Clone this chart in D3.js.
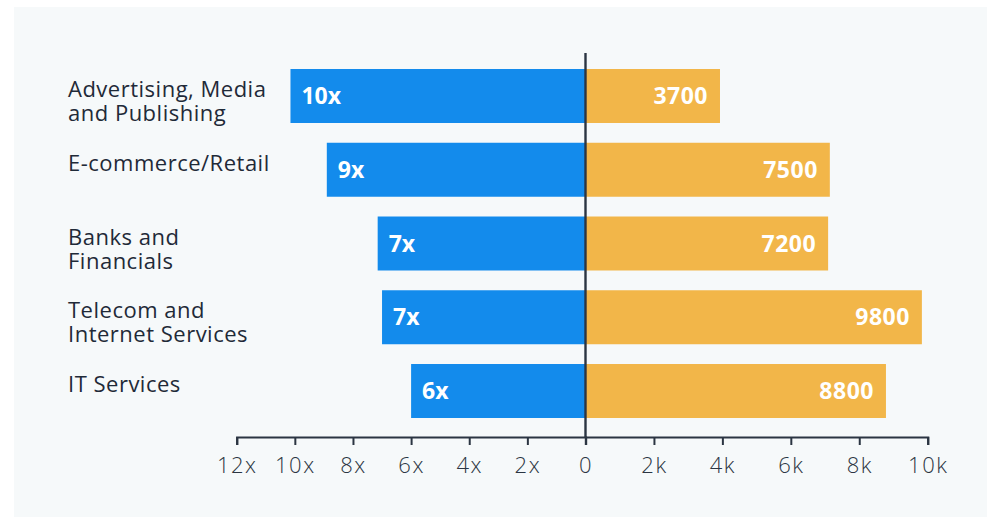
<!DOCTYPE html>
<html>
<head>
<meta charset="utf-8">
<script src="https://cdn.jsdelivr.net/npm/d3@7"></script>
<style>
  html, body { margin: 0; padding: 0; background: #ffffff; }
  svg { display: block; font-family: "Open Sans", sans-serif; }
</style>
</head>
<body>
<svg id="chart" width="991" height="517"></svg>
<script>
// Data

var categories = [
  ["Advertising, Media", "and Publishing"],
  ["E-commerce/Retail"],
  ["Banks and", "Financials"],
  ["Telecom and", "Internet Services"],
  ["IT Services"]
];
var multiples = [10.15, 8.9, 7.15, 7.0, 6.0];
var multipleLabels = ["10x", "9x", "7x", "7x", "6x"];
var counts = [3930, 7140, 7090, 9830, 8780];
var countLabels = ["3700", "7500", "7200", "9800", "8800"];

var leftTicks = [0, 2, 4, 6, 8, 10, 12];
var rightTicks = [2000, 4000, 6000, 8000, 10000];

var blue = "#138bec";
var orange = "#f2b649";
var ink = "#1f2a38";

var svg = d3.select("#chart");

// panel
svg.append("rect")
  .attr("x", 14).attr("y", 7)
  .attr("width", 973).attr("height", 520)
  .attr("fill", "#f6f9fa");

var x0 = 585.5;

var xLeft = d3.scaleLinear()
  .domain([0, 12])
  .range([x0, 236.7]);

var xRight = d3.scaleLinear()
  .domain([0, 10000])
  .range([x0, 927.7]);

var keys = categories.map(function(d) { return d.join(" "); });

var y = d3.scaleBand()
  .domain(keys)
  .range([69, 418])
  .paddingInner(0.268)
  .paddingOuter(0);

// blue bars
svg.selectAll(".lbar")
  .data(multiples)
  .enter()
  .append("rect")
  .attr("class", "lbar")
  .attr("x", function(d) { return xLeft(d); })
  .attr("y", function(d, i) { return y(keys[i]); })
  .attr("width", function(d) { return x0 - xLeft(d); })
  .attr("height", y.bandwidth())
  .attr("fill", blue);

// orange bars
svg.selectAll(".rbar")
  .data(counts)
  .enter()
  .append("rect")
  .attr("class", "rbar")
  .attr("x", x0)
  .attr("y", function(d, i) { return y(keys[i]); })
  .attr("width", function(d) { return xRight(d) - x0; })
  .attr("height", y.bandwidth())
  .attr("fill", orange);

// bar labels
svg.selectAll(".llabel")
  .data(multiples)
  .enter()
  .append("text")
  .attr("x", function(d) { return xLeft(d) + 11; })
  .attr("y", function(d, i) { return y(keys[i]) + y.bandwidth() / 2 + 8; })
  .attr("fill", "#ffffff")
  .attr("font-size", 23)
  .attr("font-weight", 700)
  .text(function(d, i) { return multipleLabels[i]; });

svg.selectAll(".rlabel")
  .data(counts)
  .enter()
  .append("text")
  .attr("x", function(d) { return xRight(d) - 12; })
  .attr("y", function(d, i) { return y(keys[i]) + y.bandwidth() / 2 + 8; })
  .attr("text-anchor", "end")
  .attr("fill", "#ffffff")
  .attr("font-size", 23)
  .attr("font-weight", 700)
  .attr("letter-spacing", 0.5)
  .text(function(d, i) { return countLabels[i]; });

// category labels
var cat = svg.selectAll(".cat")
  .data(categories)
  .enter()
  .append("text")
  .attr("class", "cat")
  .attr("x", 68)
  .attr("y", function(d, i) { return y(keys[i]) + y.bandwidth() / 2 + 1; })
  .attr("fill", ink)
  .attr("font-size", 22)
  .attr("letter-spacing", 0.5);

cat.selectAll("tspan")
  .data(function(d) { return d; })
  .enter()
  .append("tspan")
  .attr("x", 68)
  .attr("dy", function(d, i) { return i === 0 ? 0 : 24; })
  .text(function(d) { return d; });

// axes
var axisY = 437;

var gl = svg.append("g")
  .attr("transform", "translate(0," + axisY + ")")
  .call(d3.axisBottom(xLeft)
    .tickValues(leftTicks)
    .tickSize(8)
    .tickPadding(12)
    .tickFormat(function(d) { return d === 0 ? "0" : d + "x"; }));

var gr = svg.append("g")
  .attr("transform", "translate(0," + axisY + ")")
  .call(d3.axisBottom(xRight)
    .tickValues(rightTicks)
    .tickSize(8)
    .tickPadding(12)
    .tickFormat(function(d) { return (d / 1000) + "k"; }));

[gl, gr].forEach(function(g) {
  g.select(".domain")
    .attr("stroke", "#2b3542")
    .attr("stroke-width", 2.2);
  g.selectAll(".tick line")
    .attr("stroke", "#2b3542")
    .attr("stroke-width", 2);
  g.selectAll(".tick text")
    .attr("fill", "#2b3542")
    .attr("font-family", "Open Sans, sans-serif")
    .attr("font-size", 22)
    .attr("font-weight", 300)
    .attr("letter-spacing", 1.5);
});

// center line
svg.append("line")
  .attr("x1", x0).attr("x2", x0)
  .attr("y1", 53).attr("y2", axisY)
  .attr("stroke", "#2b3542")
  .attr("stroke-width", 2.4);
</script>
</body>
</html>
